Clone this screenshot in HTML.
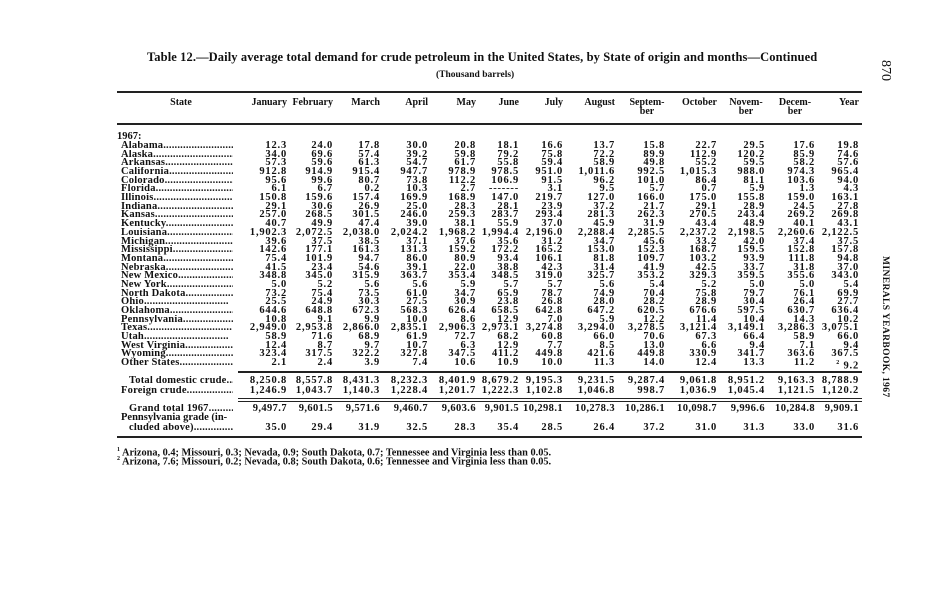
<!DOCTYPE html>
<html><head><meta charset="utf-8"><style>
*{margin:0;padding:0;box-sizing:border-box}
body{width:951px;height:600px;background:#fff;position:relative;overflow:hidden;font-family:"Liberation Serif",serif;color:#111}
.t{position:absolute;white-space:nowrap}
.r{position:absolute;left:117px;width:742px;height:10px;display:grid;grid-template-columns:128px 42px 46px 47px 48px 48px 43px 44px 52px 50px 52px 48px 50px 44px;font-weight:bold;font-size:10.5px;line-height:10px;letter-spacing:0.8px}
.r span{text-align:right;white-space:nowrap}
.r span:first-child{text-align:left;overflow:hidden;padding-left:4px;margin-right:12px;letter-spacing:0.2px}
.h{position:absolute;left:117px;width:742px;top:98px;display:grid;grid-template-columns:128px 42px 46px 47px 48px 48px 43px 44px 52px 50px 52px 48px 50px 44px;font-weight:bold;font-size:10px;line-height:9px}
.h span{text-align:right}
.rule{position:absolute;background:#222}
.fn{position:absolute;left:117px;font-size:10.3px;font-weight:bold;white-space:nowrap}
</style></head><body>
<div class="t" style="left:147px;top:50px;font-size:12.5px;font-weight:bold;letter-spacing:0.1px">Table 12.—Daily average total demand for crude petroleum in the United States, by State of origin and months—Continued</div>
<div class="t" style="left:436px;top:70px;font-size:9.5px;font-weight:bold">(Thousand barrels)</div>
<div class="t" style="top:60px;font-size:14px;transform:rotate(90deg);transform-origin:left top;left:893px">870</div>
<div class="t" style="left:890px;top:256px;font-size:9.5px;font-weight:bold;transform:rotate(90deg);transform-origin:left top;letter-spacing:0.4px">MINERALS YEARBOOK, 1967</div>

<div class="rule" style="left:117px;top:91px;width:745px;height:2px"></div>
<div class="h"><span style="text-align:center">State</span><span>January</span><span>February</span><span>March</span><span>April</span><span>May</span><span>June</span><span>July</span><span>August</span><span style="text-align:center;padding-left:14px">Septem-<br>ber</span><span>October</span><span style="text-align:center;padding-left:10px">Novem-<br>ber</span><span style="text-align:center;padding-left:10px">Decem-<br>ber</span><span>Year</span></div>
<div class="rule" style="left:117px;top:123px;width:745px;height:2px"></div>

<div class="t" style="left:117px;top:131px;font-size:10.5px;font-weight:bold">1967:</div>
<div class="r" style="top:141px"><span>Alabama..............................</span><span>12.3</span><span>24.0</span><span>17.8</span><span>30.0</span><span>20.8</span><span>18.1</span><span>16.6</span><span>13.7</span><span>15.8</span><span>22.7</span><span>29.5</span><span>17.6</span><span>19.8</span></div>
<div class="r" style="top:149.7px"><span>Alaska..............................</span><span>34.0</span><span>69.6</span><span>57.4</span><span>39.2</span><span>59.8</span><span>79.2</span><span>75.8</span><span>72.2</span><span>89.9</span><span>112.9</span><span>120.2</span><span>85.9</span><span>74.6</span></div>
<div class="r" style="top:158.4px"><span>Arkansas..............................</span><span>57.3</span><span>59.6</span><span>61.3</span><span>54.7</span><span>61.7</span><span>55.8</span><span>59.4</span><span>58.9</span><span>49.8</span><span>55.2</span><span>59.5</span><span>58.2</span><span>57.6</span></div>
<div class="r" style="top:167px"><span>California..............................</span><span>912.8</span><span>914.9</span><span>915.4</span><span>947.7</span><span>978.9</span><span>978.5</span><span>951.0</span><span>1,011.6</span><span>992.5</span><span>1,015.3</span><span>988.0</span><span>974.3</span><span>965.4</span></div>
<div class="r" style="top:175.7px"><span>Colorado..............................</span><span>95.6</span><span>99.6</span><span>80.7</span><span>73.8</span><span>112.2</span><span>106.9</span><span>91.5</span><span>96.2</span><span>101.0</span><span>86.4</span><span>81.1</span><span>103.6</span><span>94.0</span></div>
<div class="r" style="top:184.4px"><span>Florida..............................</span><span>6.1</span><span>6.7</span><span>0.2</span><span>10.3</span><span>2.7</span><span>-------</span><span>3.1</span><span>9.5</span><span>5.7</span><span>0.7</span><span>5.9</span><span>1.3</span><span>4.3</span></div>
<div class="r" style="top:193.1px"><span>Illinois..............................</span><span>150.8</span><span>159.6</span><span>157.4</span><span>169.9</span><span>168.9</span><span>147.0</span><span>219.7</span><span>127.0</span><span>166.0</span><span>175.0</span><span>155.8</span><span>159.0</span><span>163.1</span></div>
<div class="r" style="top:201.8px"><span>Indiana..............................</span><span>29.1</span><span>30.6</span><span>26.9</span><span>25.0</span><span>28.3</span><span>28.1</span><span>23.9</span><span>37.2</span><span>21.7</span><span>29.1</span><span>28.9</span><span>24.5</span><span>27.8</span></div>
<div class="r" style="top:210.4px"><span>Kansas..............................</span><span>257.0</span><span>268.5</span><span>301.5</span><span>246.0</span><span>259.3</span><span>283.7</span><span>293.4</span><span>281.3</span><span>262.3</span><span>270.5</span><span>243.4</span><span>269.2</span><span>269.8</span></div>
<div class="r" style="top:219.1px"><span>Kentucky..............................</span><span>40.7</span><span>49.9</span><span>47.4</span><span>39.0</span><span>38.1</span><span>55.9</span><span>37.0</span><span>45.9</span><span>31.9</span><span>43.4</span><span>48.9</span><span>40.1</span><span>43.1</span></div>
<div class="r" style="top:227.8px"><span>Louisiana..............................</span><span>1,902.3</span><span>2,072.5</span><span>2,038.0</span><span>2,024.2</span><span>1,968.2</span><span>1,994.4</span><span>2,196.0</span><span>2,288.4</span><span>2,285.5</span><span>2,237.2</span><span>2,198.5</span><span>2,260.6</span><span>2,122.5</span></div>
<div class="r" style="top:236.5px"><span>Michigan..............................</span><span>39.6</span><span>37.5</span><span>38.5</span><span>37.1</span><span>37.6</span><span>35.6</span><span>31.2</span><span>34.7</span><span>45.6</span><span>33.2</span><span>42.0</span><span>37.4</span><span>37.5</span></div>
<div class="r" style="top:245.2px"><span>Mississippi..............................</span><span>142.6</span><span>177.1</span><span>161.3</span><span>131.3</span><span>159.2</span><span>172.2</span><span>165.2</span><span>153.0</span><span>152.3</span><span>168.7</span><span>159.5</span><span>152.8</span><span>157.8</span></div>
<div class="r" style="top:253.8px"><span>Montana..............................</span><span>75.4</span><span>101.9</span><span>94.7</span><span>86.0</span><span>80.9</span><span>93.4</span><span>106.1</span><span>81.8</span><span>109.7</span><span>103.2</span><span>93.9</span><span>111.8</span><span>94.8</span></div>
<div class="r" style="top:262.5px"><span>Nebraska..............................</span><span>41.5</span><span>23.4</span><span>54.6</span><span>39.1</span><span>22.0</span><span>38.8</span><span>42.3</span><span>31.4</span><span>41.9</span><span>42.5</span><span>33.7</span><span>31.8</span><span>37.0</span></div>
<div class="r" style="top:271.2px"><span>New Mexico..............................</span><span>348.8</span><span>345.0</span><span>315.9</span><span>363.7</span><span>353.4</span><span>348.5</span><span>319.0</span><span>325.7</span><span>353.2</span><span>329.3</span><span>359.5</span><span>355.6</span><span>343.0</span></div>
<div class="r" style="top:279.9px"><span>New York..............................</span><span>5.0</span><span>5.2</span><span>5.6</span><span>5.6</span><span>5.9</span><span>5.7</span><span>5.7</span><span>5.6</span><span>5.4</span><span>5.2</span><span>5.0</span><span>5.0</span><span>5.4</span></div>
<div class="r" style="top:288.6px"><span>North Dakota..............................</span><span>73.2</span><span>75.4</span><span>73.5</span><span>61.0</span><span>34.7</span><span>65.9</span><span>78.7</span><span>74.9</span><span>70.4</span><span>75.8</span><span>79.7</span><span>76.1</span><span>69.9</span></div>
<div class="r" style="top:297.2px"><span>Ohio..............................</span><span>25.5</span><span>24.9</span><span>30.3</span><span>27.5</span><span>30.9</span><span>23.8</span><span>26.8</span><span>28.0</span><span>28.2</span><span>28.9</span><span>30.4</span><span>26.4</span><span>27.7</span></div>
<div class="r" style="top:305.9px"><span>Oklahoma..............................</span><span>644.6</span><span>648.8</span><span>672.3</span><span>568.3</span><span>626.4</span><span>658.5</span><span>642.8</span><span>647.2</span><span>620.5</span><span>676.6</span><span>597.5</span><span>630.7</span><span>636.4</span></div>
<div class="r" style="top:314.6px"><span>Pennsylvania..............................</span><span>10.8</span><span>9.1</span><span>9.9</span><span>10.0</span><span>8.6</span><span>12.9</span><span>7.0</span><span>5.9</span><span>12.2</span><span>11.4</span><span>10.4</span><span>14.3</span><span>10.2</span></div>
<div class="r" style="top:323.3px"><span>Texas..............................</span><span>2,949.0</span><span>2,953.8</span><span>2,866.0</span><span>2,835.1</span><span>2,906.3</span><span>2,973.1</span><span>3,274.8</span><span>3,294.0</span><span>3,278.5</span><span>3,121.4</span><span>3,149.1</span><span>3,286.3</span><span>3,075.1</span></div>
<div class="r" style="top:332px"><span>Utah..............................</span><span>58.9</span><span>71.6</span><span>68.9</span><span>61.9</span><span>72.7</span><span>68.2</span><span>60.8</span><span>66.0</span><span>70.6</span><span>67.3</span><span>66.4</span><span>58.9</span><span>66.0</span></div>
<div class="r" style="top:340.6px"><span>West Virginia..............................</span><span>12.4</span><span>8.7</span><span>9.7</span><span>10.7</span><span>6.3</span><span>12.9</span><span>7.7</span><span>8.5</span><span>13.0</span><span>6.6</span><span>9.4</span><span>7.1</span><span>9.4</span></div>
<div class="r" style="top:349.3px"><span>Wyoming..............................</span><span>323.4</span><span>317.5</span><span>322.2</span><span>327.8</span><span>347.5</span><span>411.2</span><span>449.8</span><span>421.6</span><span>449.8</span><span>330.9</span><span>341.7</span><span>363.6</span><span>367.5</span></div>
<div class="r" style="top:358px"><span>Other States..............................</span><span>2.1</span><span>2.4</span><span>3.9</span><span>7.4</span><span>10.6</span><span>10.9</span><span>10.0</span><span>11.3</span><span>14.0</span><span>12.4</span><span>13.3</span><span>11.2</span><span><sup style="font-size:6px">2</sup> 9.2</span></div>

<div class="rule" style="left:238px;top:371px;width:624px;height:1.5px"></div>
<div class="r" style="top:376px"><span style="padding-left:12px">Total domestic crude..............</span><span>8,250.8</span><span>8,557.8</span><span>8,431.3</span><span>8,232.3</span><span>8,401.9</span><span>8,679.2</span><span>9,195.3</span><span>9,231.5</span><span>9,287.4</span><span>9,061.8</span><span>8,951.2</span><span>9,163.3</span><span>8,788.9</span></div>
<div class="r" style="top:386px"><span>Foreign crude..............................</span><span>1,246.9</span><span>1,043.7</span><span>1,140.3</span><span>1,228.4</span><span>1,201.7</span><span>1,222.3</span><span>1,102.8</span><span>1,046.8</span><span>998.7</span><span>1,036.9</span><span>1,045.4</span><span>1,121.5</span><span>1,120.2</span></div>
<div class="rule" style="left:238px;top:398px;width:624px;height:1.2px"></div>
<div class="rule" style="left:238px;top:401px;width:624px;height:1.2px"></div>
<div class="r" style="top:404px;letter-spacing:0.4px"><span style="padding-left:12px">Grand total 1967..............................</span><span>9,497.7</span><span>9,601.5</span><span>9,571.6</span><span>9,460.7</span><span>9,603.6</span><span>9,901.5</span><span>10,298.1</span><span>10,278.3</span><span>10,286.1</span><span>10,098.7</span><span>9,996.6</span><span>10,284.8</span><span>9,909.1</span></div>
<div class="t" style="left:121px;top:413px;font-size:10.5px;font-weight:bold;line-height:10px">Pennsylvania grade (in-</div>
<div class="r" style="top:423px"><span style="padding-left:12px">cluded above)..............................</span><span>35.0</span><span>29.4</span><span>31.9</span><span>32.5</span><span>28.3</span><span>35.4</span><span>28.5</span><span>26.4</span><span>37.2</span><span>31.0</span><span>31.3</span><span>33.0</span><span>31.6</span></div>
<div class="rule" style="left:117px;top:436px;width:745px;height:2px"></div>

<div class="fn" style="top:447px"><sup style="font-size:6px">1</sup> Arizona, 0.4; Missouri, 0.3; Nevada, 0.9; South Dakota, 0.7; Tennessee and Virginia less than 0.05.</div>
<div class="fn" style="top:456px"><sup style="font-size:6px">2</sup> Arizona, 7.6; Missouri, 0.2; Nevada, 0.8; South Dakota, 0.6; Tennessee and Virginia less than 0.05.</div>
</body></html>
